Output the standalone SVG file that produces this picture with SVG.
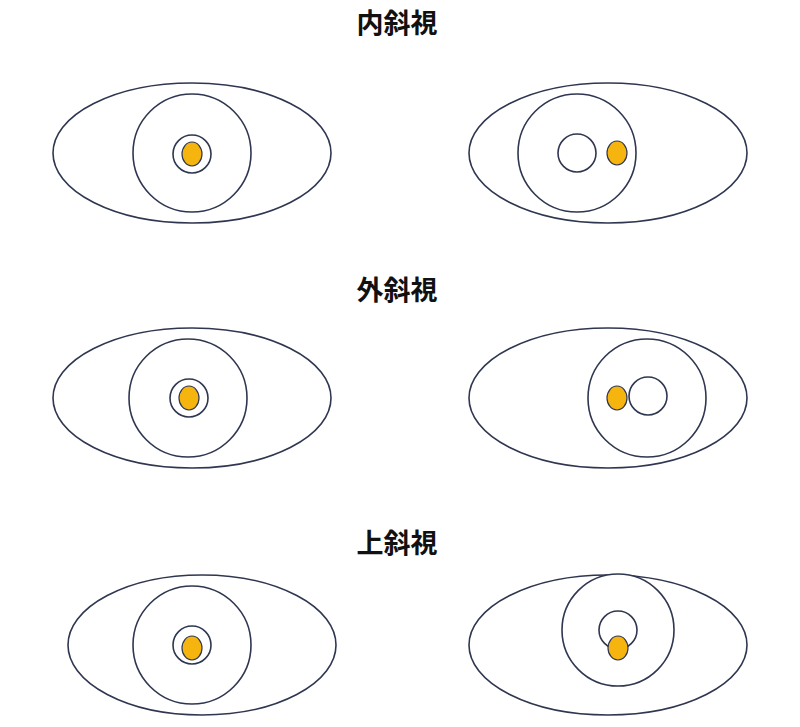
<svg xmlns="http://www.w3.org/2000/svg" width="800" height="727" viewBox="0 0 800 727">
<style>
.o{fill:#fff;stroke:#2f3650;stroke-width:1.6}
.y{fill:#f5b50e;stroke:#2f3650;stroke-width:1.2}
.t{font-family:"Noto Sans CJK JP","Noto Sans CJK SC",sans-serif;font-weight:bold;font-size:27px;fill:#111;text-anchor:middle}
</style>
<rect width="800" height="727" fill="#fff"/>
<text class="t" x="397" y="33">内斜視</text>
<text class="t" x="397" y="300">外斜視</text>
<text class="t" x="397" y="553">上斜視</text>
<g id="eye1L"><ellipse class="o" cx="192" cy="153" rx="139" ry="70"/><circle class="o" cx="192" cy="153" r="59"/><circle class="o" cx="192" cy="154" r="19"/><ellipse class="y" cx="192" cy="154" rx="10" ry="12"/></g>
<g id="eye1R"><ellipse class="o" cx="608" cy="153" rx="139" ry="70"/><circle class="o" cx="577" cy="153" r="59"/><circle class="o" cx="577" cy="153" r="19"/><ellipse class="y" cx="617" cy="153" rx="10" ry="12"/></g>
<g id="eye2L"><ellipse class="o" cx="192" cy="398" rx="139" ry="70"/><circle class="o" cx="188" cy="398" r="59"/><circle class="o" cx="189" cy="398" r="19"/><ellipse class="y" cx="189" cy="398" rx="10" ry="12"/></g>
<g id="eye2R"><ellipse class="o" cx="608" cy="398" rx="139" ry="70"/><circle class="o" cx="647" cy="398" r="59"/><circle class="o" cx="648" cy="396" r="19"/><ellipse class="y" cx="617" cy="398" rx="10" ry="12"/></g>
<g id="eye3L"><ellipse class="o" cx="202" cy="645" rx="134" ry="70"/><circle class="o" cx="192" cy="645" r="59"/><circle class="o" cx="192" cy="645" r="19"/><ellipse class="y" cx="192" cy="648" rx="10" ry="12"/></g>
<g id="eye3R"><ellipse class="o" cx="608" cy="645" rx="139" ry="70"/><circle class="o" cx="618" cy="630" r="56"/><circle class="o" cx="618" cy="630" r="19"/><ellipse class="y" cx="618" cy="648" rx="10" ry="12"/></g>
<g id="connectors"/>
</svg>
